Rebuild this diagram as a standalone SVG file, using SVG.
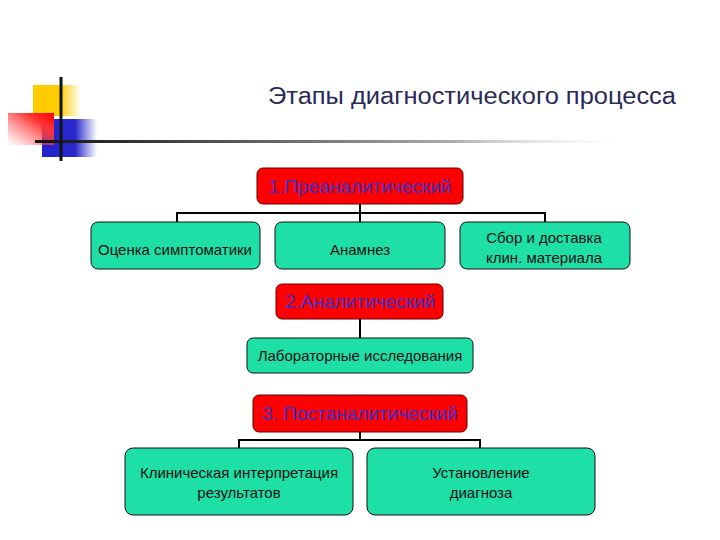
<svg xmlns="http://www.w3.org/2000/svg" width="720" height="540" viewBox="0 0 720 540">
<defs>
<linearGradient id="gY" x1="0" y1="0" x2="1" y2="0"><stop offset="0" stop-color="#FFCC00"/><stop offset="0.55" stop-color="#FFCC00"/><stop offset="1" stop-color="#FFCC00" stop-opacity="0"/></linearGradient>
<linearGradient id="gR" x1="1" y1="0" x2="0" y2="1"><stop offset="0" stop-color="#FF0000"/><stop offset="0.3" stop-color="#FF3333"/><stop offset="1" stop-color="#FF6666" stop-opacity="0"/></linearGradient>
<linearGradient id="gB" x1="0" y1="0" x2="1" y2="0"><stop offset="0" stop-color="#2222CC"/><stop offset="0.6" stop-color="#2828CC"/><stop offset="1" stop-color="#3333CC" stop-opacity="0"/></linearGradient>
<linearGradient id="gL" x1="0" y1="0" x2="1" y2="0"><stop offset="0" stop-color="#111111"/><stop offset="0.25" stop-color="#444444"/><stop offset="0.7" stop-color="#AAAAAA"/><stop offset="1" stop-color="#EEEEEE" stop-opacity="0"/></linearGradient>
</defs>
<style>
.red{fill:#FF0000;stroke:#660000;stroke-width:1}
.grn{fill:#1EE0A6;stroke:#111111;stroke-width:1}
.rt{font-family:"Liberation Sans",Arial,sans-serif;font-size:19px;fill:#3A30C8;text-anchor:middle}
.gt{font-family:"Liberation Sans",Arial,sans-serif;font-size:15px;fill:#111111;text-anchor:middle}
.title{font-family:"Liberation Sans",Arial,sans-serif;font-size:23px;fill:#2A2A5A}
.cn{fill:none;stroke:#000000;stroke-width:2}
</style>
<rect width="720" height="540" fill="#FFFFFF"/>
<g id="decoration">
<rect x="33" y="85" width="48" height="31" fill="url(#gY)"/>
<rect x="42" y="119" width="55" height="38" fill="url(#gB)"/>
<rect x="8" y="113" width="46" height="32" fill="url(#gR)"/>
<rect x="35" y="140" width="590" height="3" fill="url(#gL)"/>
<rect x="59.5" y="77" width="3" height="84" fill="#111111"/>
</g>
<text class="title" x="268" y="104" textLength="408" lengthAdjust="spacingAndGlyphs">Этапы диагностического процесса</text>
<g id="connectors">
<path class="cn" d="M360 204V213M177 222V213H545V222M360 213V222"/>
<path class="cn" d="M360 319V338"/>
<path class="cn" d="M360 432V440M239 448V440H480V448"/>
</g>
<g id="n1"><rect class="red" x="257" y="168" width="206" height="36" rx="6"/><text class="rt" x="360" y="193">1.Преаналитический</text></g>
<g id="n2"><rect class="grn" x="91" y="222" width="169" height="47" rx="7"/><text class="gt" x="175" y="255">Оценка симптоматики</text></g>
<g id="n3"><rect class="grn" x="275" y="222" width="170" height="47" rx="7"/><text class="gt" x="360" y="255">Анамнез</text></g>
<g id="n4"><rect class="grn" x="460" y="222" width="170" height="47" rx="7"/><text class="gt" x="544" y="243">Сбор и доставка</text><text class="gt" x="544" y="263">клин. материала</text></g>
<g id="n5"><rect class="red" x="276" y="284" width="167" height="35" rx="6"/><text class="rt" x="360" y="308">2.Аналитический</text></g>
<g id="n6"><rect class="grn" x="247" y="338" width="226" height="35" rx="6"/><text class="gt" x="360" y="361">Лабораторные исследования</text></g>
<g id="n7"><rect class="red" x="253" y="395" width="214" height="37" rx="6"/><text class="rt" x="360" y="420">3. Постаналитический</text></g>
<g id="n8"><rect class="grn" x="125" y="448" width="228" height="67" rx="8"/><text class="gt" x="239" y="478">Клиническая интерпретация</text><text class="gt" x="239" y="498">результатов</text></g>
<g id="n9"><rect class="grn" x="367" y="448" width="228" height="67" rx="8"/><text class="gt" x="481" y="478">Установление</text><text class="gt" x="481" y="498">диагноза</text></g>
</svg>
